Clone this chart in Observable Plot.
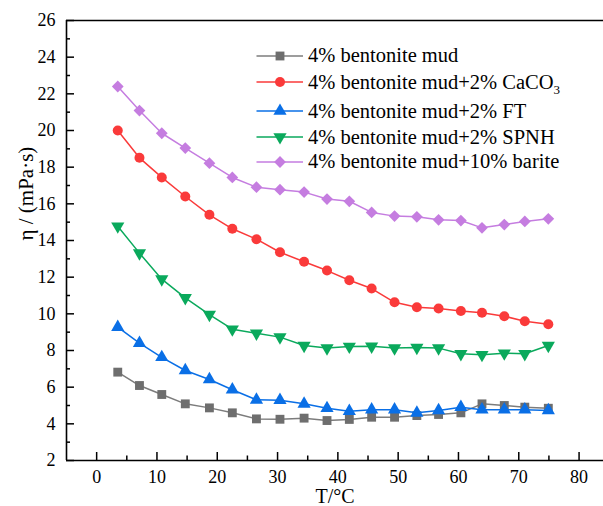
<!DOCTYPE html>
<html><head><meta charset="utf-8">
<script src="https://cdn.jsdelivr.net/npm/d3@7"></script>
<script src="https://cdn.jsdelivr.net/npm/@observablehq/plot@0.6"></script>
<style>
body{margin:0;background:#fff;}
#wrap{position:relative;width:603px;height:506px;overflow:hidden;background:#fff;}
#legend{position:absolute;left:0;top:0;font-family:"Liberation Serif","Times New Roman",Times,"DejaVu Serif",serif;font-size:20.5px;color:#000;}
.row{position:absolute;display:flex;align-items:center;height:24px;white-space:nowrap;}
.row svg{margin-right:4px;}
sub{font-size:13px;vertical-align:-5px;line-height:0;}
</style></head><body><div id="wrap"><div id="legend"></div></div>
<script>
// Temperatures (°C)
const temps = [3.5, 7.1, 10.8, 14.7, 18.7, 22.5, 26.5, 30.4, 34.4, 38.2, 41.9, 45.6, 49.4, 53.1, 56.7, 60.4, 63.9, 67.6, 71.0, 74.9];
// Viscosity η (mPa·s)
const mud    = [6.82, 6.09, 5.60, 5.09, 4.87, 4.60, 4.27, 4.25, 4.31, 4.18, 4.24, 4.36, 4.36, 4.45, 4.51, 4.60, 5.09, 5.00, 4.91, 4.85];
const caco3  = [20.0, 18.51, 17.44, 16.40, 15.40, 14.64, 14.07, 13.36, 12.84, 12.36, 11.83, 11.38, 10.63, 10.36, 10.29, 10.15, 10.06, 9.87, 9.60, 9.43];
const ft     = [9.27, 8.40, 7.63, 6.91, 6.42, 5.86, 5.31, 5.29, 5.09, 4.85, 4.69, 4.77, 4.77, 4.60, 4.73, 4.91, 4.77, 4.77, 4.77, 4.73];
const spnh   = [14.78, 13.31, 11.89, 10.87, 9.96, 9.16, 8.94, 8.73, 8.27, 8.13, 8.22, 8.23, 8.13, 8.16, 8.13, 7.82, 7.77, 7.85, 7.82, 8.27];
const barite = [22.40, 21.09, 19.85, 19.04, 18.22, 17.44, 16.91, 16.77, 16.64, 16.26, 16.14, 15.53, 15.33, 15.29, 15.13, 15.09, 14.69, 14.87, 15.04, 15.18];
const seriesNames = ["4% bentonite mud", "4% bentonite mud+2% CaCO3", "4% bentonite mud+2% FT", "4% bentonite mud+2% SPNH", "4% bentonite mud+10% barite"];
const legendHtml = ["4% bentonite mud", "4% bentonite mud+2% CaCO<sub>3</sub>", "4% bentonite mud+2% FT", "4% bentonite mud+2% SPNH", "4% bentonite mud+10% barite"];
const xMajor = [0, 10, 20, 30, 40, 50, 60, 70, 80];
const xMinor = [5, 15, 25, 35, 45, 55, 65, 75];
const yMajor = [2, 4, 6, 8, 10, 12, 14, 16, 18, 20, 22, 24, 26];
const yMinor = [3, 5, 7, 9, 11, 13, 15, 17, 19, 21, 23, 25];

const styles = [
  {values: mud,    color: "#6e6e6e", line: "#7c7c7c", symbol: "square",   d3sym: d3.symbolSquare,   r: 5.0,  rotate: 0},
  {values: caco3,  color: "#fa3a3a", line: "#fa3a3a", symbol: "circle",   d3sym: d3.symbolCircle,   r: 5.0,  rotate: 0},
  {values: ft,     color: "#0a6fe6", line: "#0a6fe6", symbol: "triangle", d3sym: d3.symbolTriangle, r: 4.9,  rotate: 0},
  {values: spnh,   color: "#0aa95c", line: "#0aa95c", symbol: "triangle", d3sym: d3.symbolTriangle, r: 4.9,  rotate: 180},
  {values: barite, color: "#c57de0", line: "#c57de0", symbol: "diamond2", d3sym: d3.symbolDiamond2, r: 5.3,  rotate: 0}
];

const W = 603, H = 506, mL = 66, mR = 0, mT = 20, mB = 46;
const fw = W - mL - mR, fh = H - mT - mB;
const serif = '"Liberation Serif","Times New Roman",Times,"DejaVu Serif",serif';

const dataMarks = [];
styles.forEach((s, k) => {
  const d = temps.map((t, i) => ({T: t, v: s.values[i], s: seriesNames[k]}));
  dataMarks.push(Plot.line(d, {x: "T", y: "v", stroke: s.line, strokeWidth: 1.5}));
  dataMarks.push(Plot.dot(d, {x: "T", y: "v", symbol: s.symbol, r: s.r, fill: s.color, stroke: "none", rotate: s.rotate}));
});

const chart = Plot.plot({
  width: W, height: H,
  marginLeft: mL, marginRight: mR, marginTop: mT, marginBottom: mB,
  x: {domain: [-5, 84.05]},
  y: {domain: [2, 26]},
  style: {fontFamily: serif, fontSize: "18px", color: "#000", background: "#fff"},
  marks: [
    Plot.axisX({ticks: xMajor, tickSize: 0, tickPadding: 10, tickFormat: d => String(d), label: null, fontSize: 18, fontFamily: serif}),
    Plot.axisY({ticks: yMajor, tickSize: 0, tickPadding: 11, tickFormat: d => String(d), label: null, fontSize: 18, fontFamily: serif}),
    Plot.tickX(xMajor, {x: d => d, insetTop: fh - 8, stroke: "#000", strokeWidth: 1.5}),
    Plot.tickX(xMinor, {x: d => d, insetTop: fh - 4.5, stroke: "#000", strokeWidth: 1.5}),
    Plot.tickY(yMajor, {y: d => d, insetRight: fw - 8, stroke: "#000", strokeWidth: 1.5}),
    Plot.tickY(yMinor, {y: d => d, insetRight: fw - 4, stroke: "#000", strokeWidth: 1.5}),
    Plot.ruleX([-5], {stroke: "#000", strokeWidth: 1.6}),
    Plot.ruleY([2], {stroke: "#000", strokeWidth: 1.6}),
    Plot.ruleY([26], {stroke: "#000", strokeWidth: 1.6}),
    Plot.text(["η / (mPa·s)"], {text: d => d, frameAnchor: "left", dx: -40, rotate: -90, fontSize: 21, fontFamily: serif}),
    Plot.text(["T/°C"], {text: d => d, frameAnchor: "bottom", dy: 42, fontSize: 20, fontFamily: serif}),
    ...dataMarks
  ]
});
const wrap = document.getElementById("wrap");
wrap.insertBefore(chart, wrap.firstChild);

// Legend
const legend = document.getElementById("legend");
const rowCenters = [55.7, 82.3, 111, 137.3, 161.7];
styles.forEach((s, k) => {
  const row = document.createElement("div");
  row.className = "row";
  row.style.left = "256px";
  row.style.top = (rowCenters[k] - 12) + "px";
  const path = d3.symbol().type(s.d3sym).size(Math.PI * s.r * s.r)();
  row.innerHTML = `<svg width="48" height="24"><line x1="0.5" x2="47" y1="12" y2="12" stroke="${s.line}" stroke-width="1.5"/><path d="${path}" fill="${s.color}" transform="translate(24,12) rotate(${s.rotate})"/></svg><span>${legendHtml[k]}</span>`;
  legend.appendChild(row);
});
</script>
</body></html>
